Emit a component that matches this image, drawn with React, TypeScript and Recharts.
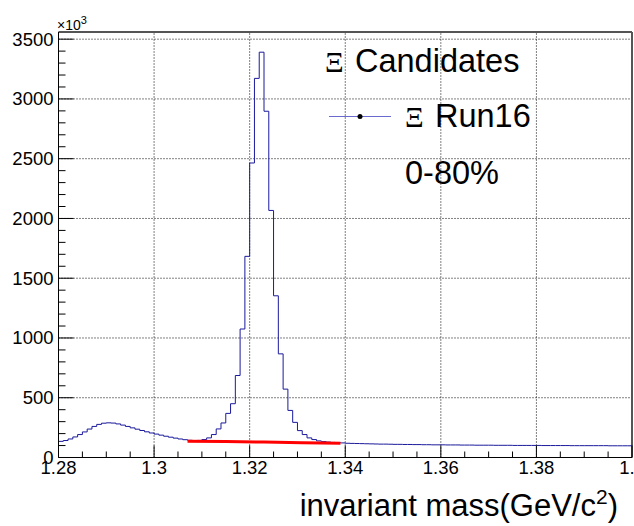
import React from "react";
import {
  ComposedChart,
  Line,
  ReferenceLine,
  XAxis,
  YAxis,
} from "recharts";

// invariant-mass histogram, 1 MeV bins from 1.280 to 1.400 (counts in 10^3)
const binStart = 1.28;
const binWidth = 0.001;

const counts = [
  // 1.280 - 1.309
  135, 142, 155, 172, 192, 214, 238, 260, 277, 287,
  290, 288, 281, 271, 260, 248, 237, 226, 215, 205,
  196, 187, 178, 170, 162, 155, 149, 144, 141, 143,
  // 1.310 - 1.339
  150, 164, 192, 239, 289, 369, 450, 686, 1075, 1683,
  2464, 3172, 3391, 2897, 2067, 1353, 867, 572, 394, 294,
  225, 192, 164, 150, 139, 133, 129, 126, 124, 122,
  // 1.340 - 1.399
  119, 118, 117, 116, 115, 114, 113, 112, 112, 111,
  110, 110, 109, 109, 108, 108, 107, 107, 106, 106,
  106, 105, 105, 105, 104, 104, 104, 103, 103, 103,
  103, 102, 102, 102, 102, 101, 101, 101, 101, 101,
  101, 100, 100, 100, 100, 100, 100, 99, 99, 99,
  99, 99, 99, 99, 99, 98, 98, 98, 98, 98,
];

// background fit (red)
const fitX = [1.307, 1.315, 1.323, 1.331, 1.339];
const fitY = [136, 133, 129, 124, 120];

const xMajor = [1.28, 1.3, 1.32, 1.34, 1.36, 1.38, 1.4];
const yMajor = [0, 500, 1000, 1500, 2000, 2500, 3000, 3500];
const xGrid = [1.3, 1.32, 1.34, 1.36, 1.38];
const yGrid = [500, 1000, 1500, 2000, 2500, 3000, 3500];

const xTicks: number[] = [];
for (let i = 0; i <= 24; i++) xTicks.push(Number((1.28 + i * 0.005).toFixed(3)));
const yTicks: number[] = [];
for (let i = 0; i <= 35; i++) yTicks.push(i * 100);

const edges = counts.map((_, i) => Number((binStart + i * binWidth).toFixed(3)));
const data: { m: number; count: number; fit?: number }[] = edges.map((m, i) => ({
  m,
  count: counts[i],
}));
data.push({ m: 1.4, count: counts[counts.length - 1] });
data.forEach((row) => {
  const k = fitX.findIndex((f) => Math.abs(f - row.m) < 1e-9);
  if (k >= 0) row.fit = fitY[k];
});

const FONT = "'Liberation Sans', Arial, Helvetica, sans-serif";
const SERIF = "'Liberation Serif', 'Times New Roman', serif";

const isMajor = (v: number, list: number[]) =>
  list.some((m) => Math.abs(m - v) < 1e-9);

function XTick({ x, y, payload }: { x?: number; y?: number; payload?: { value: number } }) {
  const v = payload?.value ?? 0;
  const major = isMajor(v, xMajor);
  return (
    <g>
      <line x1={x} x2={x} y1={y} y2={(y ?? 0) - (major ? 12 : 6)} stroke="#000" strokeWidth={1} />
      {major && (
        <text x={x} y={(y ?? 0) + 16} textAnchor="middle" fontSize={18.5} fontFamily={FONT} fill="#000">
          {String(Number(v.toFixed(3)))}
        </text>
      )}
    </g>
  );
}

function YTick({ x, y, payload }: { x?: number; y?: number; payload?: { value: number } }) {
  const v = payload?.value ?? 0;
  const major = isMajor(v, yMajor);
  return (
    <g>
      <line x1={x} x2={(x ?? 0) + (major ? 15 : 7)} y1={y} y2={y} stroke="#000" strokeWidth={1} />
      {major && (
        <text x={(x ?? 0) - 5} y={y} dy="0.35em" textAnchor="end" fontSize={18.5} fontFamily={FONT} fill="#000">
          {v}
        </text>
      )}
    </g>
  );
}

export default function App() {
  return (
    <div style={{ position: "absolute", left: 0, top: 0, width: 634, height: 526, background: "#fff" }}>
      <ComposedChart
        width={634}
        height={526}
        data={data}
        margin={{ top: 32, right: 2, left: 0, bottom: 0 }}
      >
        <XAxis
          dataKey="m"
          type="number"
          domain={[1.28, 1.4]}
          ticks={xTicks}
          interval={0}
          height={68.5}
          tickSize={0}
          tickMargin={0}
          tickLine={false}
          tick={<XTick />}
          axisLine={{ stroke: "#000" }}
          allowDataOverflow
        />
        <YAxis
          type="number"
          domain={[0, 3560]}
          ticks={yTicks}
          interval={0}
          width={58.5}
          tickSize={0}
          tickMargin={0}
          tickLine={false}
          tick={<YTick />}
          axisLine={{ stroke: "#000" }}
          allowDataOverflow
        />
        {xGrid.map((g) => (
          <ReferenceLine key={"x" + g} x={g} stroke="#000" strokeDasharray="1 2" strokeWidth={1} />
        ))}
        {yGrid.map((g) => (
          <ReferenceLine key={"y" + g} y={g} stroke="#000" strokeDasharray="1 2" strokeWidth={1} />
        ))}
        <ReferenceLine y={3560} stroke="#555" strokeWidth={2} />
        <ReferenceLine x={1.4} stroke="#555" strokeWidth={2} />
        <Line
          dataKey="count"
          type="stepAfter"
          stroke="#1a1a9c"
          strokeWidth={1}
          dot={false}
          isAnimationActive={false}
        />
        <Line
          dataKey="fit"
          type="linear"
          stroke="#ff0000"
          strokeWidth={3}
          dot={false}
          connectNulls
          isAnimationActive={false}
        />
      </ComposedChart>
      <svg
        width={634}
        height={526}
        style={{ position: "absolute", left: 0, top: 0, pointerEvents: "none" }}
      >
        <text x={57} y={29.5} fontSize={14} fontFamily={FONT} fill="#000">
          ×10<tspan dy={-6} fontSize={11}>3</tspan>
        </text>

        <text x={325} y={71.5} fontSize={29} fontFamily={SERIF} fill="#000">Ξ</text>
        <text x={355} y={71.5} fontSize={32.5} fontFamily={FONT} fill="#000">Candidates</text>

        <line x1={329} x2={391} y1={116.5} y2={116.5} stroke="#6a6ad0" strokeWidth={1} />
        <circle cx={360} cy={116.5} r={2.5} fill="#000" />
        <text x={405} y={126.5} fontSize={29} fontFamily={SERIF} fill="#000">Ξ</text>
        <text x={435} y={126.5} fontSize={32.5} fontFamily={FONT} fill="#000">Run16</text>

        <text x={405} y={184} fontSize={32.5} fontFamily={FONT} fill="#000">0-80%</text>

        <text x={618} y={516} textAnchor="end" fontSize={31} fontFamily={FONT} fill="#000">
          invariant mass(GeV/c<tspan dy={-12} fontSize={21}>2</tspan>
          <tspan dy={12}>)</tspan>
        </text>
      </svg>
    </div>
  );
}
